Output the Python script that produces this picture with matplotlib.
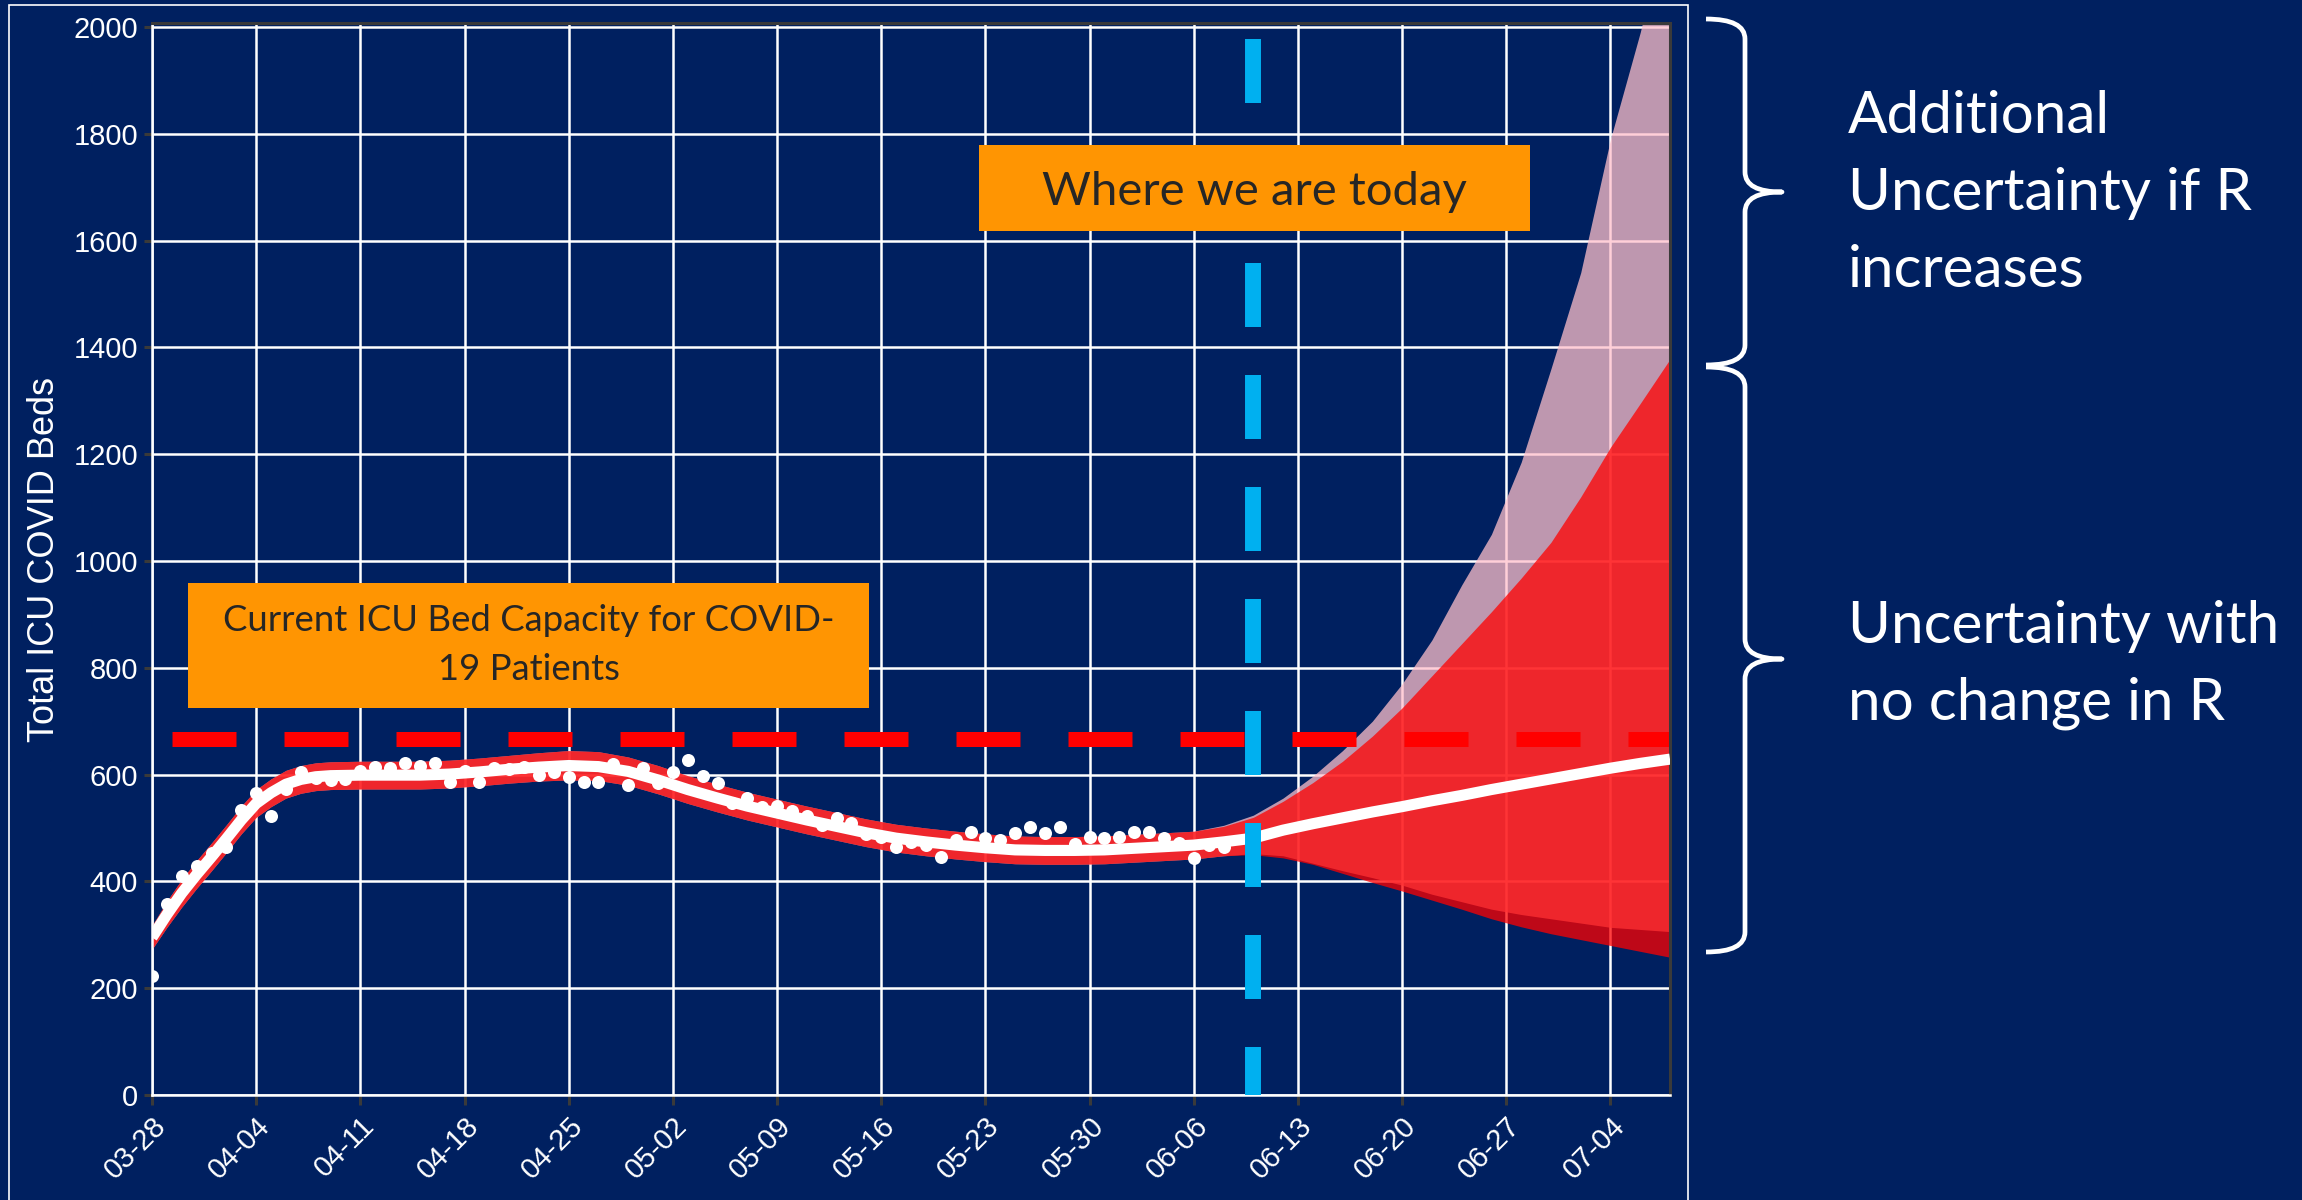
import numpy as np
import matplotlib
matplotlib.use("Agg")
import matplotlib.pyplot as plt
from matplotlib.patches import Rectangle, PathPatch
from matplotlib.path import Path

plt.rcParams['lines.scale_dashes'] = False

# ---------------------------------------------------------------- data
START = np.datetime64('2020-03-28')

tick_labels = ["03-28", "04-04", "04-11", "04-18", "04-25", "05-02", "05-09",
               "05-16", "05-23", "05-30", "06-06", "06-13", "06-20", "06-27", "07-04"]

# daily observed ICU occupancy (day 0 = 03-28)
obs_days = list(range(0, 73))
obs_beds = [223, 358, 410, 429, 454, 464, 534, 566, 523, 573,
            605, 594, 589, 592, 606, 615, 613, 622, 617, 622,
            587, 606, 586, 612, 610, 615, 599, 605, 595, 586,
            586, 619, 581, 612, 585, 604, 627, 597, 584, 546,
            556, 540, 541, 532, 523, 506, 518, 509, 489, 483,
            465, 474, 468, 446, 478, 493, 481, 478, 490, 501,
            490, 501, 470, 484, 481, 484, 493, 493, 482, 471,
            443, 468, 464]

# model fit over the observed period
fit_days = [0, 1, 2, 3, 4, 5, 6, 7, 8, 9, 10, 11, 12,
            14, 16, 18, 20, 22, 24, 26, 28, 30, 32, 34, 36, 38, 40,
            42, 44, 46, 48, 50, 52, 54, 56, 58, 60, 62, 64, 66, 68]
fit_mid = [295, 338, 378, 413, 446, 480, 515, 546, 566, 582, 591, 596, 598,
           599, 599, 599, 601, 605, 610, 614, 617, 615, 606, 590, 572, 556, 541,
           528, 515, 503, 491, 481, 474, 468, 463, 459, 458, 458, 459, 462, 465]
fit_lo = [273, 314, 352, 387, 420, 454, 489, 520, 540, 556, 565, 570, 572,
          573, 573, 573, 575, 579, 584, 588, 590, 589, 580, 564, 546, 530, 515,
          502, 489, 477, 465, 455, 448, 442, 437, 433, 432, 432, 433, 436, 439]
fit_hi = [317, 363, 404, 439, 472, 506, 541, 572, 592, 608, 617, 622, 624,
          625, 625, 625, 627, 631, 636, 641, 645, 643, 633, 617, 598, 582, 567,
          554, 541, 529, 517, 507, 500, 494, 489, 485, 484, 484, 485, 488, 491]

# projection
proj_days = [70, 72, 74, 76, 78, 80, 82, 84, 86, 88, 90, 92, 94, 96, 98, 100, 102]
proj_mid = [468, 474, 481, 496, 508, 519, 530, 540, 551, 561, 572, 582, 592, 602, 612, 621, 629]
# uncertainty with no change in R
same_r_lo = [442, 448, 450, 444, 432, 415, 398, 382, 365, 348, 330, 315, 302, 291, 280, 269, 258]
same_r_hi = [494, 503, 520, 550, 585, 625, 672, 725, 785, 845, 905, 968, 1035, 1120, 1213, 1295, 1378]
# additional uncertainty if R increases
rise_r_lo = [442, 448, 452, 448, 434, 420, 407, 393, 376, 362, 348, 338, 330, 322, 314, 310, 306]
rise_r_hi = [494, 505, 524, 556, 597, 645, 700, 770, 852, 955, 1050, 1185, 1360, 1540, 1790, 1990, 2220]

icu_capacity = 667
today_day = 74
last_day = 102

# ---------------------------------------------------------------- styling
NAVY = '#002060'
ORANGE = '#FF9502'
CYAN = '#00B0F0'
DARK_TEXT = '#262626'
W, H = 2302, 1200


def to_dates(days):
    return START + np.asarray(days).astype('timedelta64[D]')


def fx(x):
    return x / W


def fy(y):
    return 1 - y / H


fig = plt.figure(figsize=(W / 100, H / 100), dpi=100, facecolor=NAVY)
ax = fig.add_axes([fx(152), fy(1095), (1670 - 152) / W, (1095 - 23) / H])
ax.set_facecolor(NAVY)

band_days = fit_days + proj_days
mid = fit_mid + proj_mid
lo_same = fit_lo + same_r_lo
hi_same = fit_hi + same_r_hi
lo_rise = fit_lo + rise_r_lo
hi_rise = fit_hi + rise_r_hi
xb = to_dates(band_days)

ax.fill_between(xb, lo_rise, hi_rise, color='#FFC0CB', alpha=0.75, lw=0, zorder=1)
ax.fill_between(xb, lo_same, hi_same, color='#FF0000', alpha=0.75, lw=0, zorder=1.1)

# ICU capacity
ax.plot(to_dates([0, last_day]), [icu_capacity, icu_capacity], color='#FF0000',
        lw=10.8, ls=(66.24, (46.08, 34.56)), dash_capstyle='butt', zorder=2)

# central estimate and observations
ax.plot(xb, mid, color='white', lw=8, solid_capstyle='butt',
        solid_joinstyle='round', zorder=3)
ax.scatter(to_dates(obs_days), obs_beds, s=88, color='white', lw=0, zorder=4)

ax.set_xlim(to_dates([0])[0], to_dates([last_day])[0])
ax.set_ylim(0, 2007.5)

# today marker
ax.plot(to_dates([today_day, today_day]), [2007.5, 0], color=CYAN, lw=11.5,
        ls=(69.12, (46.08, 34.56)), dash_capstyle='butt', zorder=5)

ax.set_axisbelow(True)
ax.grid(True, color='white', lw=1.8)
ax.set_yticks(range(0, 2001, 200))
ax.set_xticks(to_dates([7 * i for i in range(len(tick_labels))]))
ax.set_xticklabels(tick_labels, rotation=45, ha='right', va='top',
                   rotation_mode='anchor')

for side in ('top', 'right'):
    ax.spines[side].set_color('#3A3A3A')
    ax.spines[side].set_linewidth(2.2)
for side in ('left', 'bottom'):
    ax.spines[side].set_color('white')
    ax.spines[side].set_linewidth(1.8)

ax.tick_params(axis='both', color='#3A3A3A', width=2.2, labelcolor='white',
               labelsize=21)
ax.tick_params(axis='y', length=6, pad=4)
ax.tick_params(axis='x', length=7, pad=5)
for lab in ax.get_xticklabels() + ax.get_yticklabels():
    lab.set_fontfamily('Liberation Sans')

fig.text(fx(45), fy(559), 'Total ICU COVID Beds', rotation=90, ha='center',
         va='center', fontsize=26, color='white', family='Liberation Sans')

# callout boxes
fig.add_artist(Rectangle((fx(979), fy(231)), (1530 - 979) / W, (231 - 145) / H,
                         transform=fig.transFigure, facecolor=ORANGE, lw=0, zorder=10))
fig.text(fx(1254.5), fy(192), 'Where we are today', ha='center', va='center',
         fontsize=34, color=DARK_TEXT, family='Lato', zorder=11)

fig.add_artist(Rectangle((fx(188), fy(708)), (869 - 188) / W, (708 - 583) / H,
                         transform=fig.transFigure, facecolor=ORANGE, lw=0, zorder=10))
fig.text(fx(528.5), fy(645), 'Current ICU Bed Capacity for COVID-\n19 Patients',
         ha='center', va='center', fontsize=26.3, color=DARK_TEXT, family='Lato',
         linespacing=1.6, zorder=11)

# outer frame
fig.add_artist(Rectangle((fx(9), -0.05), (1688 - 9) / W, 1.05 - 5 / H,
                         transform=fig.transFigure, fill=False, edgecolor='white',
                         lw=1.2, zorder=12, clip_on=False))


def brace(top, middle, bottom, tip=1706, body=1745, cusp=1782, r=20):
    pts = [(tip, top), (body, top), (body, top + r), (body, middle - r),
           (body, middle), (cusp, middle), (body, middle), (body, middle + r),
           (body, bottom - r), (body, bottom), (tip, bottom)]
    codes = [Path.MOVETO, Path.CURVE3, Path.CURVE3, Path.LINETO,
             Path.CURVE3, Path.CURVE3, Path.CURVE3, Path.CURVE3,
             Path.LINETO, Path.CURVE3, Path.CURVE3]
    path = Path([(fx(x), fy(y)) for x, y in pts], codes)
    fig.add_artist(PathPatch(path, transform=fig.transFigure, fill=False,
                             edgecolor='white', lw=3.4, capstyle='butt',
                             joinstyle='round', zorder=12))


brace(19, 192, 365)
brace(367, 659, 952)

side_lines = [('Additional', 133), ('Uncertainty if R', 210), ('increases', 287),
              ('Uncertainty with', 643), ('no change in R', 720)]
for txt, base in side_lines:
    fig.text(fx(1848), fy(base), txt, ha='left', va='baseline', fontsize=42,
             color='white', family='Lato', fontweight='normal')

fig.savefig('out.png', dpi=100, facecolor=NAVY)
